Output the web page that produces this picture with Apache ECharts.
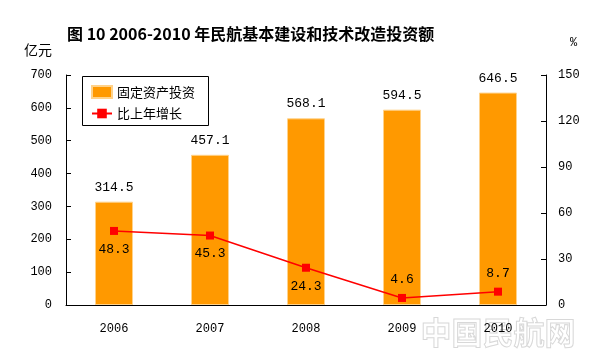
<!DOCTYPE html>
<html><head><meta charset="utf-8">
<script src="https://cdn.jsdelivr.net/npm/echarts@6/dist/echarts.min.js"></script>
<style>html,body{margin:0;padding:0;background:#fff}#c{width:600px;height:357px}</style>
</head><body><div id="c"></div>
<script>
var categories = ['2006', '2007', '2008', '2009', '2010'];
var investment = [314.5, 457.1, 568.1, 594.5, 646.5];
var growth = [48.3, 45.3, 24.3, 4.6, 8.7];
var growthLabelPos = ['bottom', 'bottom', 'bottom', 'top', 'top'];
var leftTicks = [0, 100, 200, 300, 400, 500, 600, 700];
var rightTicks = [0, 30, 60, 90, 120, 150];

var font = '"Noto Sans CJK SC", sans-serif';
var mono = '"Liberation Mono", "DejaVu Sans Mono", monospace';
var chart = echarts.init(document.getElementById('c'));
chart.setOption({
  backgroundColor: '#fff',
  animation: false,
  title: {
    text: '图 10 2006-2010 年民航基本建设和技术改造投资额',
    left: 62, top: 21,
    textStyle: { fontFamily: font, fontSize: 16, fontWeight: 'bold', color: '#000' }
  },
  graphic: [
    { type: 'text', left: 24, top: 43, style: { text: '亿元', font: '14px ' + font, fill: '#000' } },
    { type: 'text', left: 570, top: 37, style: { text: '%', font: '12px ' + mono, fill: '#000' } },
    { type: 'text', left: 420, top: 316, style: { text: '中国民航网', font: 'bold 31px ' + font, fill: 'rgba(255,255,255,0)', stroke: '#d8d8d8', lineWidth: 1 } },
    { type: 'rect', left: 82, top: 76, shape: { width: 126, height: 49 }, style: { fill: '#fff', stroke: '#000', lineWidth: 1 }, z: 0 }
  ],
  legend: {
    left: 86, top: 80, orient: 'vertical', itemGap: 8, itemWidth: 20, itemHeight: 12,
    textStyle: { fontFamily: font, fontSize: 13, color: '#000' },
    data: [
      { name: '固定资产投资', icon: 'rect' },
      { name: '比上年增长' }
    ]
  },
  grid: { left: 66, right: 54, top: 75, bottom: 52 },
  xAxis: {
    type: 'category', data: categories,
    axisLine: { lineStyle: { color: '#000' } },
    axisTick: { inside: true, length: 5, lineStyle: { color: '#000' } },
    axisLabel: { color: '#000', fontFamily: mono, fontSize: 12, margin: 18 }
  },
  yAxis: [
    {
      type: 'value', min: leftTicks[0], max: leftTicks[leftTicks.length - 1], interval: 100,
      axisLine: { show: true, lineStyle: { color: '#000' } },
      axisTick: { show: true, inside: true, length: 5, lineStyle: { color: '#000' } },
      splitLine: { show: false },
      axisLabel: { color: '#000', fontFamily: mono, fontSize: 12, margin: 14 }
    },
    {
      type: 'value', min: rightTicks[0], max: rightTicks[rightTicks.length - 1], interval: 30,
      axisLine: { show: true, lineStyle: { color: '#000' } },
      axisTick: { show: true, inside: true, length: 5, lineStyle: { color: '#000' } },
      splitLine: { show: false },
      axisLabel: { color: '#000', fontFamily: mono, fontSize: 12, margin: 12 }
    }
  ],
  series: [
    {
      name: '固定资产投资', type: 'bar', data: investment, barWidth: 38,
      itemStyle: { color: '#FF9900', borderColor: '#FFD28A', borderWidth: 1 },
      label: { show: true, position: 'top', distance: 8, color: '#000', fontFamily: mono, fontSize: 13 }
    },
    {
      name: '比上年增长', type: 'line', yAxisIndex: 1,
      data: growth.map(function (v, i) { return { value: v, label: { position: growthLabelPos[i] } }; }),
      symbol: 'rect', symbolSize: 8,
      lineStyle: { color: '#FF0000', width: 1.5 },
      itemStyle: { color: '#FF0000' },
      label: { show: true, distance: 8, color: '#000', fontFamily: mono, fontSize: 13 }
    }
  ]
});
</script></body></html>
